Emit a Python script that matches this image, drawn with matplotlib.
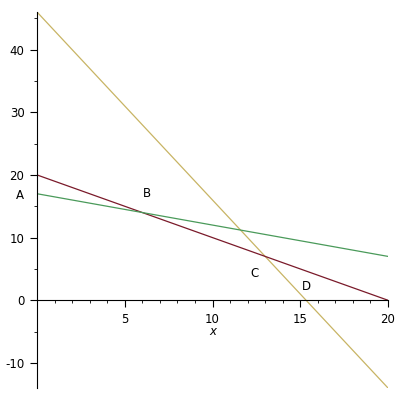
import numpy as np
import matplotlib
matplotlib.use("Agg")
import matplotlib.pyplot as plt
from matplotlib.ticker import MultipleLocator, FixedLocator
plt.rcParams["axes.unicode_minus"] = False

# === 資料 ===
x_range = [0, 20]
red_y = [20, 0]      # y = 20 - x
green_y = [17, 7]    # y = 17 - x/2
yellow_y = [46, -14] # y = 46 - 3x

point_names = ["A", "B", "C", "D"]
point_x = [-0.97, 6.27, 12.42, 15.38]
point_y = [16.7, 17.1, 4.3, 2.2]

x_ticks = [5, 10, 15, 20]
y_ticks = [-10, 0, 10, 20, 30, 40]

# === 畫圖 ===
fig = plt.figure(figsize=(4, 4), dpi=100)
ax = fig.add_axes([0.0925, 0.03, 0.8775, 0.94])

ax.plot(x_range, yellow_y, color="#c8b464", lw=0.9)
ax.plot(x_range, red_y, color="#7a1a2a", lw=0.9)
ax.plot(x_range, green_y, color="#4a9a5a", lw=0.9)

for name, px, py in zip(point_names, point_x, point_y):
    ax.text(px, py, name, ha="center", va="center", fontsize=8.5)

ax.set_xlim(0, 20)
ax.set_ylim(-14, 46)

ax.spines["top"].set_visible(False)
ax.spines["right"].set_visible(False)
ax.spines["bottom"].set_position(("data", 0))
ax.spines["left"].set_position(("data", 0))

ax.xaxis.set_major_locator(FixedLocator(x_ticks))
ax.yaxis.set_major_locator(FixedLocator(y_ticks))
ax.xaxis.set_minor_locator(MultipleLocator(1))
ax.yaxis.set_minor_locator(MultipleLocator(5))
ax.tick_params(which="major", length=5, width=0.8, labelsize=8.5, direction="out", pad=4)
ax.tick_params(which="minor", length=2.5, width=0.6, direction="out")

ax.text(10, -5, "x", style="italic", ha="center", va="center", fontsize=8.5)

fig.savefig("out.png", dpi=100)
